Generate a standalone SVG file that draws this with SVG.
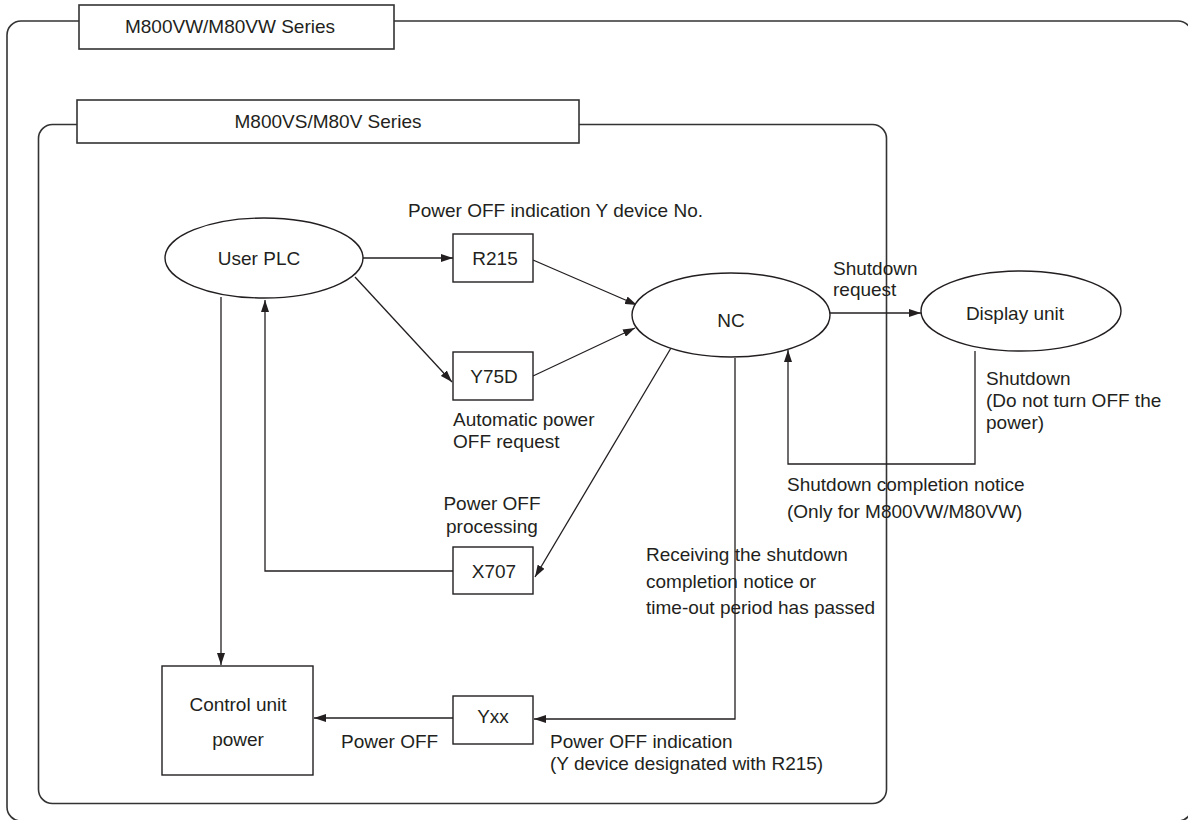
<svg xmlns="http://www.w3.org/2000/svg" width="1188" height="820" viewBox="0 0 1188 820">
<defs>
<marker id="ah" viewBox="0 0 12 8" refX="12" refY="4" markerWidth="12" markerHeight="8" markerUnits="userSpaceOnUse" orient="auto">
<path d="M0,0 L12,4 L0,8 z" fill="#231f20"/>
</marker>
</defs>
<style>
.frame{fill:none;stroke:#333;stroke-width:1.6}
.lbl{fill:#fff;stroke:#333;stroke-width:1.6}
.node{fill:#fff;stroke:#231f20;stroke-width:1.4}
.ln{fill:none;stroke:#231f20;stroke-width:1.3}
.arr{fill:none;stroke:#231f20;stroke-width:1.3;marker-end:url(#ah)}
text{font-family:"Liberation Sans",Arial,sans-serif;font-size:19px;fill:#231f20}
.c{text-anchor:middle}
</style>
<rect fill="#fff" x="0" y="0" width="1188" height="820"/>
<g id="outer-frame">
<rect class="frame" x="7" y="21" width="1185" height="800" rx="14"/>
<rect class="lbl" x="79" y="5" width="315" height="44"/>
<text class="c" x="230" y="33">M800VW/M80VW Series</text>
</g>
<g id="inner-frame">
<rect class="frame" x="38.5" y="124.5" width="848" height="679" rx="14"/>
<rect class="lbl" x="77" y="100" width="502" height="43"/>
<text class="c" x="328" y="128">M800VS/M80V Series</text>
</g>
<g id="connectors">
<line class="arr" x1="363" y1="258" x2="453" y2="258"/>
<line class="arr" x1="355" y1="277" x2="452" y2="382"/>
<line class="arr" x1="533" y1="260" x2="637" y2="305"/>
<line class="arr" x1="533" y1="376" x2="635" y2="328"/>
<line class="arr" x1="671" y1="348" x2="535" y2="577"/>
<polyline class="arr" points="453,571 265,571 265,300"/>
<line class="arr" x1="221" y1="297" x2="221" y2="665"/>
<line class="arr" x1="453" y1="718" x2="314" y2="718"/>
<polyline class="arr" points="735,358 735,719 534,719"/>
<line class="arr" x1="830" y1="313" x2="921" y2="313"/>
<polyline class="arr" points="975,351 975,464 788,464 788,350"/>
</g>
<g id="user-plc">
<ellipse class="node" cx="264" cy="258" rx="99" ry="40"/>
<text class="c" x="259" y="265">User PLC</text>
</g>
<g id="r215">
<rect class="node" x="453" y="234" width="80" height="48"/>
<text class="c" x="495" y="265">R215</text>
</g>
<g id="y75d">
<rect class="node" x="453" y="352" width="80" height="48"/>
<text class="c" x="494" y="383">Y75D</text>
</g>
<g id="x707">
<rect class="node" x="453" y="547" width="80" height="47"/>
<text class="c" x="494" y="578">X707</text>
</g>
<g id="nc">
<ellipse class="node" cx="731" cy="315" rx="99" ry="42"/>
<text class="c" x="731" y="327">NC</text>
</g>
<g id="display-unit">
<ellipse class="node" cx="1021" cy="311" rx="100" ry="40"/>
<text class="c" x="1015" y="320">Display unit</text>
</g>
<g id="control-unit">
<rect class="node" x="162" y="666" width="151" height="109"/>
<text class="c" x="238" y="711">Control unit</text>
<text class="c" x="238" y="746">power</text>
</g>
<g id="yxx">
<rect class="node" x="453" y="696" width="80" height="48"/>
<text class="c" x="493" y="723">Yxx</text>
</g>
<g id="labels">
<text x="408" y="217">Power OFF indication Y device No.</text>
<text x="453" y="426">Automatic power</text>
<text x="453" y="448">OFF request</text>
<text class="c" x="492" y="510">Power OFF</text>
<text class="c" x="492" y="533">processing</text>
<text x="833" y="275">Shutdown</text>
<text x="833" y="296">request</text>
<text x="986" y="385">Shutdown</text>
<text x="986" y="407">(Do not turn OFF the</text>
<text x="986" y="429">power)</text>
<text x="787" y="491">Shutdown completion notice</text>
<text x="787" y="518">(Only for M800VW/M80VW)</text>
<text x="646" y="561">Receiving the shutdown</text>
<text x="646" y="588">completion notice or</text>
<text x="646" y="614">time-out period has passed</text>
<text x="341" y="748">Power OFF</text>
<text x="550" y="748">Power OFF indication</text>
<text x="550" y="770">(Y device designated with R215)</text>
</g>
</svg>
